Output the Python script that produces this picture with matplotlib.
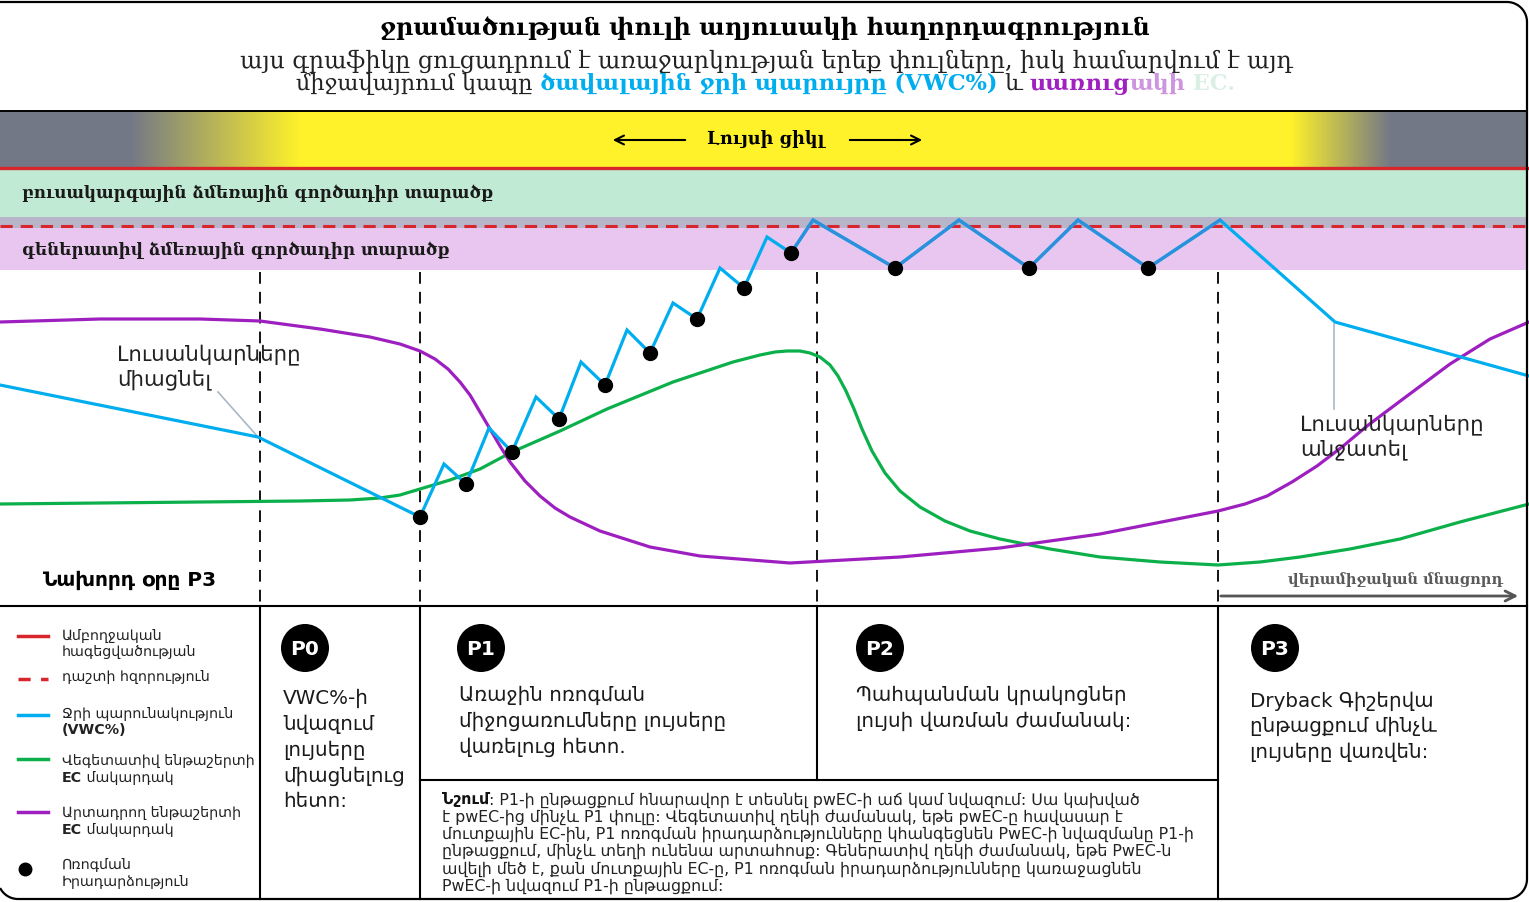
import matplotlib
matplotlib.use("Agg")
from matplotlib import pyplot as plt
from matplotlib.patches import Rectangle, Circle
import numpy as np

# --- chart data (x = time across the day, y = level, screen units) ---
vwc_t = [0, 258, 420, 444, 466, 489, 512, 536, 559, 581, 605, 627, 650, 673, 697, 720,
         744, 767, 791, 813, 895, 959, 1029, 1078, 1148, 1220, 1335, 1529]
vwc_y = [386, 438, 518, 465, 485, 429, 453, 398, 420, 363, 386, 331, 354, 304, 320, 269,
         289, 238, 254, 221, 269, 221, 269, 221, 269, 221, 323, 377]

shot_t = [420, 466, 512, 559, 605, 650, 697, 744, 791, 895, 1029, 1148]
shot_y = [518, 485, 453, 420, 386, 354, 320, 289, 254, 269, 269, 269]

veg_t = [0, 100, 200, 300, 350, 380, 400, 420, 450, 480, 512, 560, 607, 673, 733, 760, 775,
         787, 800, 810, 820, 830, 838, 846, 854, 862, 872, 885, 900, 920, 945, 970, 1000,
         1050, 1100, 1160, 1218, 1260, 1300, 1350, 1400, 1460, 1529]
veg_y = [505, 504, 503, 502, 501, 499, 496, 490, 481, 470, 453, 432, 410, 383, 363, 356, 353,
         352, 352, 354, 358, 366, 377, 392, 410, 430, 452, 474, 492, 508, 522, 532, 540,
         550, 558, 563, 566, 563, 558, 550, 540, 523, 505]

gen_t = [0, 100, 200, 260, 320, 370, 400, 420, 435, 448, 460, 470, 480, 490, 500, 510, 525,
         540, 555, 570, 600, 650, 700, 790, 900, 1000, 1100, 1218, 1245, 1267, 1292, 1317,
         1342, 1367, 1403, 1450, 1490, 1529]
gen_y = [323, 320, 320, 322, 330, 338, 345, 352, 360, 370, 383, 396, 413, 430, 447, 463, 482,
         497, 509, 518, 532, 548, 557, 564, 558, 549, 535, 512, 505, 497, 483, 467,
         448, 427, 400, 365, 340, 323]

phase_x = [260, 420, 817, 1218]
phase_labels = ["P0", "P1", "P2", "P3"]

title = "ջրամածության փուլի աղյուսակի հաղորդագրություն"
subtitle1 = "այս գրաֆիկը ցուցադրում է առաջարկության երեք փուլները, իսկ համարվում է այդ"
light_label = "Լույսի ցիկլ"
veg_zone = "բուսակարգային ձմեռային գործադիր տարածք"
gen_zone = "գեներատիվ ձմեռային գործադիր տարածք"

phase_texts = [
    "VWC%-ի\nնվազում\nլույսերը\nմիացնելուց\nհետո:",
    "Առաջին ոռոգման\nմիջոցառումները լույսերը\nվառելուց հետո.",
    "Պահպանման կրակոցներ\nլույսի վառման ժամանակ:",
    "Dryback Գիշերվա\nընթացքում մինչև\nլույսերը վառվեն:",
]

note_lines = [
    ": P1-ի ընթացքում հնարավոր է տեսնել pwEC-ի աճ կամ նվազում: Սա կախված",
    "է pwEC-ից մինչև P1 փուլը: Վեգետատիվ ղեկի ժամանակ, եթե pwEC-ը հավասար է",
    "մուտքային EC-ին, P1 ոռոգման իրադարձությունները կհանգեցնեն PwEC-ի նվազմանը P1-ի",
    "ընթացքում, մինչև տեղի ունենա արտահոսք: Գեներատիվ ղեկի ժամանակ, եթե PwEC-ն",
    "ավելի մեծ է, քան մուտքային EC-ը, P1 ոռոգման իրադարձությունները կառաջացնեն",
    "PwEC-ի նվազում P1-ի ընթացքում:",
]

BLUE = "#00AEEF"
GREEN = "#0BB04B"
PURPLE = "#9E1FBF"
RED = "#D8262D"
SANS = ["DejaVu Sans"]
SERIF = ["DejaVu Serif", "DejaVu Sans"]

fig = plt.figure(figsize=(15.29, 9.03), dpi=100)
ax = fig.add_axes([0, 0, 1, 1])
ax.set_xlim(0, 1529)
ax.set_ylim(903, 0)
ax.axis("off")
renderer = fig.canvas.get_renderer()


def text_width(s, **kw):
    # width including spaces: measure between bars
    t1 = ax.text(0, 0, "|" + s + "|", **kw)
    t2 = ax.text(0, 0, "||", **kw)
    w = t1.get_window_extent(renderer).width - t2.get_window_extent(renderer).width
    t1.remove()
    t2.remove()
    return w


def draw_runs(x, y, runs, ha="left", size=12, family=SANS):
    widths = [text_width(s, fontsize=size, family=family, fontweight=wt) for s, c, wt in runs]
    total = sum(widths)
    if ha == "center":
        x = x - total / 2
    for (s, c, wt), w in zip(runs, widths):
        ax.text(x, y, s, fontsize=size, family=family, fontweight=wt, color=c,
                ha="left", va="center")
        x += w


def corner(cx, cy, r, a0, a1):
    a = np.radians(np.linspace(a0, a1, 20))
    return list(cx + r * np.cos(a)), list(cy + r * np.sin(a))


# outer frame: open on the left, rounded corners
fx, fy = [0], [3]
for cx, cy, a0, a1 in [(1507, 23, -90, 0), (1507, 880, 0, 90), (18, 880, 90, 150)]:
    px_, py_ = corner(cx, cy, 20, a0, a1)
    fx += px_
    fy += py_
ax.plot(fx, fy, color="black", lw=1.6, zorder=10, clip_on=False)

# title block
ax.text(765, 28, title, fontsize=17.3, fontweight="bold", family=SERIF, ha="center", va="center")
ax.text(766, 61, subtitle1, fontsize=17, family=SERIF, ha="center", va="center", color="#222222")
draw_runs(766, 84, [("միջավայրում կապը ", "#222222", "normal"),
                    ("ծավալային ջրի պարույրը (VWC%)", BLUE, "bold"),
                    (" և ", "#222222", "normal"),
                    ("սառուց", "#A020C0", "bold"),
                    ("ակի", "#CC95DE", "bold"),
                    (" EC.", "#DCEFE5", "bold")],
          ha="center", size=16.1, family=SERIF)
ax.plot([0, 1527], [112, 112], color="black", lw=1.4)

# light cycle gradient band
xs = np.arange(1527)
gray = np.array([115, 120, 134]) / 255
yellow = np.array([255, 242, 42]) / 255
mix = np.interp(xs, [0, 130, 300, 1290, 1390, 1527], [0, 0, 1, 1, 0, 0])
grad = gray[None, :] * (1 - mix[:, None]) + yellow[None, :] * mix[:, None]
ax.imshow(grad[None, :, :], extent=(0, 1527, 168, 112), aspect="auto", zorder=1)
ax.text(766, 139, light_label, fontsize=12.7, fontweight="bold", family=SERIF, ha="center", va="center")
ax.annotate("", xy=(610, 141), xytext=(688, 141),
            arrowprops=dict(arrowstyle="->", lw=1.5, color="black", mutation_scale=16))
ax.annotate("", xy=(925, 141), xytext=(847, 141),
            arrowprops=dict(arrowstyle="->", lw=1.5, color="black", mutation_scale=16))

# zones
ax.add_patch(Rectangle((0, 170), 1527, 48, fc="#C0EAD4", ec="none", zorder=1))
ax.add_patch(Rectangle((0, 218), 1527, 11, fc="#B8B5CB", ec="none", zorder=1))
ax.add_patch(Rectangle((0, 229), 1527, 42, fc="#E8C6EF", ec="none", zorder=1))
ax.plot([0, 1527], [169, 169], color=RED, lw=2.4, zorder=2)
ax.plot([0, 1527], [227, 227], color=RED, lw=2.2, dashes=(4, 2.6), zorder=2)
ax.text(22, 193, veg_zone, fontsize=12.1, fontweight="bold", family=SERIF, va="center", color="#1a1a1a")
ax.text(22, 250, gen_zone, fontsize=12.1, fontweight="bold", family=SERIF, va="center", color="#1a1a1a")

# phase boundaries in chart
for px in phase_x:
    ax.plot([px, px], [273, 607], color="black", lw=1.3, dashes=(6.5, 4.5), zorder=2)

# curves
ax.plot(veg_t, veg_y, color=GREEN, lw=2.3, zorder=3, solid_capstyle="round")
ax.plot(gen_t, gen_y, color=PURPLE, lw=2.3, zorder=3, solid_capstyle="round")
ax.plot(vwc_t, vwc_y, color=BLUE, lw=2.3, zorder=4, solid_joinstyle="miter")
ax.plot(vwc_t[18:26], vwc_y[18:26], color="#2C90DC", lw=2.3, zorder=4, solid_joinstyle="miter")
ax.plot(shot_t, shot_y, "o", color="black", ms=10, zorder=5)

# annotations in chart
ax.text(117, 367, "Լուսանկարները\nմիացնել", fontsize=15.3, family=SANS, va="center",
        linespacing=1.3, color="#222222")
ax.plot([218, 258], [393, 438], color="#A9B8C6", lw=1.2, zorder=3)
ax.text(1300, 437, "Լուսանկարները\nանջատել", fontsize=15.3, family=SANS, va="center",
        linespacing=1.3, color="#222222")
ax.plot([1334, 1334], [325, 410], color="#A9B8C6", lw=1.2, zorder=3)
ax.text(42, 580, "Նախորդ օրը P3", fontsize=14.5, fontweight="bold", family=SANS, va="center")
ax.text(1503, 580, "վերամիջական մնացորդ", fontsize=10.5, fontweight="bold", family=SERIF,
        va="center", ha="right", color="#5a5a5a")
ax.annotate("", xy=(1521, 597), xytext=(1218, 597),
            arrowprops=dict(arrowstyle="->", lw=2, color="#555555", mutation_scale=18))

# lower panel grid
ax.plot([0, 1527], [607, 607], color="black", lw=1.5, zorder=6)
for px in [260, 420, 1218]:
    ax.plot([px, px], [607, 900], color="black", lw=1.5)
ax.plot([817, 817], [607, 781], color="black", lw=1.5)
ax.plot([420, 1218], [781, 781], color="black", lw=1.5)

# legend
leg_y = [637, 680, 716, 760, 813]
ax.plot([18, 48], [leg_y[0], leg_y[0]], color=RED, lw=2.5)
ax.plot([18, 48], [leg_y[1], leg_y[1]], color=RED, lw=2.5, dashes=(3.5, 3))
ax.plot([18, 48], [leg_y[2], leg_y[2]], color=BLUE, lw=2.5)
ax.plot([18, 48], [leg_y[3], leg_y[3]], color=GREEN, lw=2.5)
ax.plot([18, 48], [leg_y[4], leg_y[4]], color=PURPLE, lw=2.5)
ax.plot([25], [870], "o", color="black", ms=9)
ls = 10.3
ax.text(62, 636, "Ամբողջական", fontsize=ls, va="center", family=SANS, color="#222222")
ax.text(62, 652, "հագեցվածության", fontsize=ls, va="center", family=SANS, color="#222222")
ax.text(62, 677, "դաշտի հզորություն", fontsize=ls, va="center", family=SANS, color="#222222")
ax.text(62, 714, "Ջրի պարունակություն", fontsize=ls, va="center", family=SANS, color="#222222")
ax.text(62, 730, "(VWC%)", fontsize=ls, va="center", family=SANS, fontweight="bold", color="#222222")
ax.text(62, 761, "Վեգետատիվ ենթաշերտի", fontsize=ls, va="center", family=SANS, color="#222222")
draw_runs(62, 778, [("EC", "#222222", "bold"), (" մակարդակ", "#222222", "normal")], size=ls)
ax.text(62, 813, "Արտադրող ենթաշերտի", fontsize=ls, va="center", family=SANS, color="#222222")
draw_runs(62, 830, [("EC", "#222222", "bold"), (" մակարդակ", "#222222", "normal")], size=ls)
ax.text(62, 865, "Ոռոգման", fontsize=ls, va="center", family=SANS, color="#222222")
ax.text(62, 882, "Իրադարձություն", fontsize=ls, va="center", family=SANS, color="#222222")

# phase descriptions
circ_x = [305, 481, 880, 1275]
text_x = [283, 459, 856, 1250]
text_y = [700, 697, 697, 702]
for cx, tx, ty, lab, txt in zip(circ_x, text_x, text_y, phase_labels, phase_texts):
    ax.add_patch(Circle((cx, 649), 24, fc="black", ec="none", zorder=6))
    ax.text(cx, 650, lab, color="white", fontsize=14.5, fontweight="bold", family=SANS,
            ha="center", va="center", zorder=7)
    ax.text(tx, ty - 11, txt, fontsize=14.3, family=SANS, va="top", linespacing=1.42,
            color="#1a1a1a")

# note
ns = 11.4
draw_runs(442, 800, [("Նշում", "#111111", "bold"), (note_lines[0], "#222222", "normal")], size=ns)
for i, line in enumerate(note_lines[1:]):
    ax.text(442, 817 + 17.3 * i, line, fontsize=ns, family=SANS, va="center", color="#222222")

fig.savefig("out.png", dpi=100)
